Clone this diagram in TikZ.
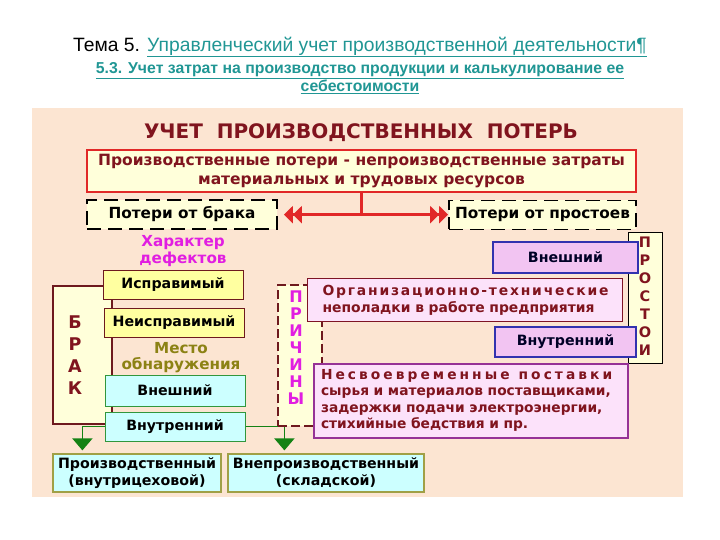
\documentclass[tikz,border=0pt]{standalone}
\usepackage{fontspec}
\setmainfont{DejaVu Sans}
\newfontfamily\titlefont{Liberation Sans}
\usetikzlibrary{arrows.meta, positioning}
\definecolor{TopicTeal}{RGB}{32, 150, 148}
\definecolor{PanelPeach}{RGB}{252, 229, 210}
\definecolor{LossRed}{RGB}{128, 20, 30}
\definecolor{FrameRed}{RGB}{225, 40, 40}
\definecolor{CreamFill}{RGB}{255, 255, 218}
\definecolor{CardYellow}{RGB}{255, 255, 160}
\definecolor{CardCyan}{RGB}{204, 255, 255}
\definecolor{FrameGreen}{RGB}{50, 150, 60}
\definecolor{FrameOlive}{RGB}{160, 160, 70}
\definecolor{ArrowGreen}{RGB}{20, 130, 20}
\definecolor{LabelMagenta}{RGB}{225, 30, 225}
\definecolor{LabelOlive}{RGB}{140, 130, 20}
\definecolor{PinkFill}{RGB}{252, 226, 250}
\definecolor{VioletFill}{RGB}{242, 196, 242}
\definecolor{FrameBlue}{RGB}{50, 50, 175}
\definecolor{FramePurple}{RGB}{150, 50, 150}
\definecolor{FrameMaroon}{RGB}{110, 25, 30}

\begin{document}
\begin{tikzpicture}[x=1pt, y=-1pt,
    card/.style={rectangle, draw, inner sep=0pt, align=center, font=\bfseries\fontsize{14.2}{17}\selectfont},
    yellowcard/.style={card, draw=FrameMaroon, fill=CardYellow, line width=1pt, minimum width=140pt, minimum height=29pt},
    cyancard/.style={card, draw=FrameGreen, fill=CardCyan, line width=1pt, minimum width=140pt, minimum height=29pt},
    sitecard/.style={card, draw=FrameOlive, fill=CardCyan, line width=1.2pt, minimum height=38pt},
    violetcard/.style={card, draw=FrameBlue, fill=VioletFill, line width=1.4pt, minimum height=30pt, text=black!85!blue},
    pinkcard/.style={card, fill=PinkFill, text=LossRed, align=left},
    losscard/.style={card, draw=black, dash pattern=on 14pt off 7pt, line width=1.8pt, fill=CreamFill, minimum height=29pt, font=\bfseries\fontsize{15.3}{17}\selectfont},
    letters/.style={align=center, font=\bfseries\fontsize{16}{17}\selectfont},
    caption/.style={align=center, font=\bfseries\fontsize{15.2}{16.5}\selectfont},
    redline/.style={draw=FrameRed, line width=2.5pt},
    greenline/.style={draw=ArrowGreen, line width=1.8pt, -{Triangle[length=12pt, width=20pt]}}
  ]
  \useasboundingbox (0,0) rectangle (720,540);

  % title
  \node[font=\titlefont\fontsize{19.3}{22}\selectfont, text=TopicTeal] (topic) at (360,47)
    {{\color{black}Тема 5.} \underline{Управленческий учет производственной деятельности¶}};
  \node[font=\titlefont\bfseries\fontsize{15.8}{18}\selectfont, text=TopicTeal, align=center] (section) at (360,78)
    {\underline{5.3. Учет затрат на производство продукции и калькулирование ее}\\\underline{себестоимости}};

  \fill[PanelPeach] (32,108) rectangle (683,497);

  \node[text=LossRed, font=\bfseries\fontsize{20}{22}\selectfont] (head) at (361,133)
    {УЧЕТ\ \ ПРОИЗВОДСТВЕННЫХ\ \ ПОТЕРЬ};
  \node[card, draw=FrameRed, fill=CreamFill, line width=1.3pt, text=LossRed, minimum width=549pt, minimum height=42pt,
    font=\bfseries\fontsize{15.5}{19}\selectfont] (def) at (361.5,171)
    {Производственные потери - непроизводственные затраты\\материальных и трудовых ресурсов};

  \node[losscard, minimum width=190pt] (scrap) at (182,214.5) {Потери от брака};
  \node[losscard, minimum width=187pt] (idle) at (542.5,215) {Потери от простоев};

  \coordinate[below=22pt of def.south] (fork);
  \draw[redline] (def.south) -- (fork);
  \draw[redline, -{Triangle[length=9pt, width=17pt] Triangle[length=9pt, width=17pt]}, shorten >=6pt] (fork) -- (fork -| scrap.east);
  \draw[redline, -{Triangle[length=9pt, width=17pt] Triangle[length=9pt, width=17pt]}] (fork) -- (fork -| idle.west);

  % brak
  \node[caption, text=LabelMagenta] (defects) at (183,251) {Характер\\дефектов};
  \node[draw=FrameMaroon, fill=CreamFill, line width=1.6pt, minimum width=59pt, minimum height=138pt] (scrapbar) at (82.5,355) {};
  \node[letters, text=LossRed, font=\bfseries\fontsize{17.5}{22}\selectfont] (scrapword) at (75,355) {Б\\Р\\А\\К};
  \node[yellowcard] (fixable) at (173,284.5) {Исправимый};
  \node[yellowcard] (unfixable) at (174,322.5) {Неисправимый};
  \node[caption, text=LabelOlive] (place) at (181,357.5) {Место\\обнаружения};
  \node[cyancard, minimum height=31pt] (extL) at (175,390.5) {Внешний};
  \node[cyancard] (intL) at (175,426.5) {Внутренний};
  \node[sitecard, minimum width=168pt] (inshop) at (137,473) {Производственный\\(внутрицеховой)};
  \node[sitecard, minimum width=196pt] (outshop) at (326,473) {Внепроизводственный\\(складской)};
  \draw[greenline] (intL.west) -| ([xshift=30pt, yshift=3pt]inshop.north west);
  \draw[greenline] (intL.east) -| ([xshift=57pt, yshift=3pt]outshop.north west);

  % prichiny
  \node[draw=FrameMaroon, dash pattern=on 9pt off 4pt, line width=1.3pt, fill=CreamFill, minimum width=44pt, minimum height=141pt] (causebar) at (300,355.5) {};
  \node[letters, text=LabelMagenta] (causeword) at (296,348) {П\\Р\\И\\Ч\\И\\Н\\Ы};
  \node[pinkcard, draw=FrameMaroon!80!purple, line width=1.2pt, minimum width=315pt, minimum height=43pt, text width=285pt,
    font=\bfseries\fontsize{13.9}{17}\selectfont] (orgtech) at (465,300)
    {{\addfontfeature{LetterSpace=13}Организационно-технические}\\неполадки в работе предприятия};

  % prostoi
  \node[draw=black, fill=CreamFill, line width=0.8pt, minimum width=34pt, minimum height=131pt] (idlebar) at (645,297.5) {};
  \node[letters, text=LossRed, font=\bfseries\fontsize{14.5}{18}\selectfont] (idleword) at (645,296) {П\\Р\\О\\С\\Т\\О\\И};
  \node[violetcard, minimum width=145pt, minimum height=31pt] (extR) at (565.5,257.5) {Внешний};
  \node[violetcard, minimum width=141pt] (intR) at (565.5,342) {Внутренний};

  \node[pinkcard, draw=FramePurple, line width=2pt, minimum width=314pt, minimum height=74pt, text width=300pt,
    font=\bfseries\fontsize{13.8}{16.5}\selectfont] (supply) at (471,400.5)
    {{\addfontfeature{LetterSpace=22}Несвоевременные\hspace{9pt}поставки}\\сырья и материалов поставщиками,\\задержки подачи электроэнергии,\\стихийные бедствия и пр.};
\end{tikzpicture}
\end{document}
